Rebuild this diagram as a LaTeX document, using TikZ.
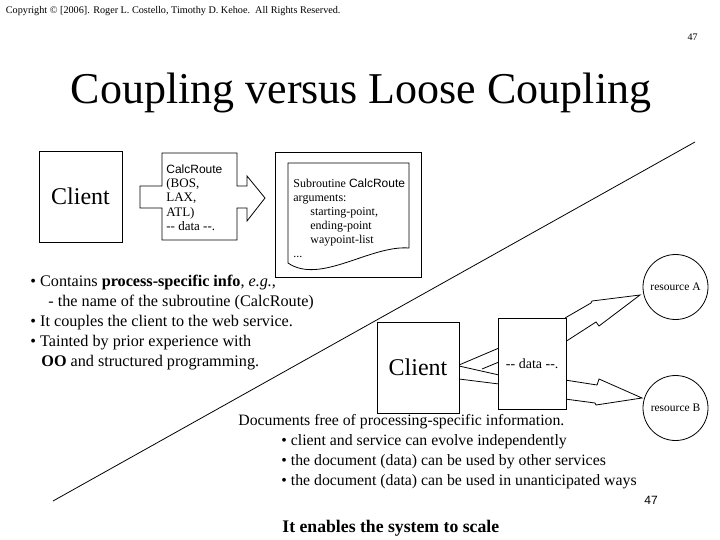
\documentclass[tikz,border=0pt]{standalone}
\usepackage{fontspec}
\setmainfont{Liberation Serif}
\setsansfont{Liberation Sans}

\begin{document}
\begin{tikzpicture}[x=1pt,y=-1pt,line width=0.8pt,
  box/.style={draw,fill=white,inner sep=0pt},
  res/.style={draw,fill=white,circle,minimum size=65pt,inner sep=0pt,font=\fontsize{11.5}{13}\selectfont},
  txt/.style={anchor=north west,inner sep=0pt,align=left}]
\fill[white] (0,0) rectangle (720,540);
\useasboundingbox (0,0) rectangle (720,540);

\node[anchor=west,inner sep=0pt,font=\fontsize{10.2}{12}\selectfont] (copy) at (5.5,11) {Copyright © [2006]. Roger L. Costello, Timothy D. Kehoe.\ \ All Rights Reserved.};
\node[inner sep=0pt,font=\fontsize{10}{12}\selectfont] (pagetop) at (692.5,37) {47};
\node[anchor=base,inner sep=0pt,font=\fontsize{44}{48}\selectfont] (title) at (361,104) {Coupling versus Loose Coupling};

% dividing line
\draw (53,501) -- (695,142);

% coupled: client, message, subroutine
\node[box,minimum width=83pt,minimum height=91pt,font=\fontsize{24}{28}\selectfont] (client) at (80.5,196.5) {Client};
\draw[fill=white] (140,186) -- (162,186) -- (162,153) -- (237,153) -- (237,186) -- (247,186) -- (247,176) -- (265,198) -- (247,221) -- (247,208) -- (237,208) -- (237,240) -- (162,240) -- (162,208) -- (140,208) -- cycle;
\node[txt,font=\fontsize{13}{14.2}\selectfont] (call) at (166,164.5) {{\sffamily\fontsize{12}{14.2}\selectfont CalcRoute}\\(BOS,\\LAX,\\ATL)\\-{}- data -{}-.};
\node[box,minimum width=146pt,minimum height=125pt] (doc) at (348.7,215.2) {};
\draw[fill=white] (288,163) -- (409,163) -- (409,248) .. controls (370,245) and (320,285) .. (288,263) -- cycle;
\node[txt,font=\fontsize{12}{14}\selectfont] (sub) at (293,178.5) {Subroutine {\sffamily CalcRoute}\\arguments:\\\hspace*{17pt}starting-point,\\\hspace*{17pt}ending-point\\\hspace*{17pt}waypoint-list\\...};

\node[txt,font=\fontsize{16.2}{20}\selectfont] (coupled) at (30,274.8) {• Contains \textbf{process-specific info}, \textit{e.g.},\\\hspace*{18pt}- the name of the subroutine (CalcRoute)\\• It couples the client to the web service.\\• Tainted by prior experience with\\\hspace*{11pt}\textbf{OO} and structured programming.};

% loose: client, data, resources
\draw (459,365) -- (499,348);
\draw (459,366) -- (499,375);
\draw (482,369) -- (499,362);
\draw (459,379) -- (499,384);
\draw (565,318) -- (591,303) -- (592,301) -- (640,295) -- (599,326) -- (596,322) -- (565,342);
\draw (565,380) -- (597,385) -- (599,379) -- (642,398) -- (596,405) -- (595,403) -- (565,399);
\node[box,minimum width=82pt,minimum height=91pt,font=\fontsize{24}{28}\selectfont] (client2) at (418,367.5) {Client};
\node[box,minimum width=67.5pt,minimum height=91pt,font=\fontsize{14}{16}\selectfont] (data) at (532.2,363.5) {-{}- data -{}-.};
\node[res] (resA) at (675.5,287) {resource A};
\node[res] (resB) at (675.5,408) {resource B};

\node[txt,font=\fontsize{15.8}{20}\selectfont] (loose) at (238,413.7) {Documents free of processing-specific information.\\\hspace*{43pt}• client and service can evolve independently\\\hspace*{43pt}• the document (data) can be used by other services\\\hspace*{43pt}• the document (data) can be used in unanticipated ways};
\node[inner sep=0pt,font=\sffamily\fontsize{12}{14}\selectfont] (pagebot) at (651,500) {47};
\node[anchor=base west,inner sep=0pt,font=\bfseries\fontsize{17.7}{20}\selectfont] (scale) at (282,532) {It enables the system to scale};
\end{tikzpicture}
\end{document}
